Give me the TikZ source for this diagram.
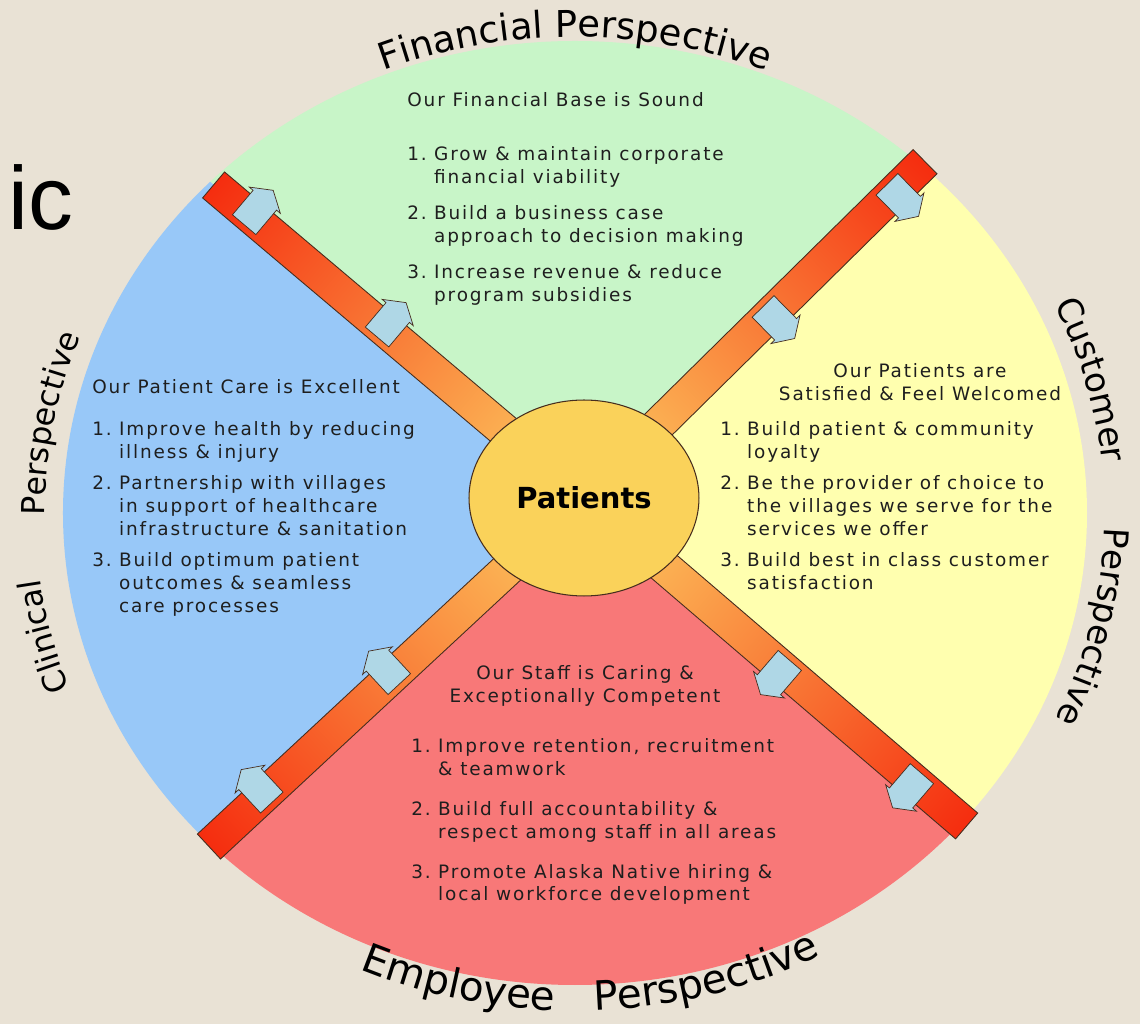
\documentclass[tikz,border=0pt]{standalone}
\usepackage{fontspec}
\setmainfont{DejaVu Sans}
\newfontfamily\bodyfont{DejaVu Sans}[LetterSpace=10]
\newfontfamily\slidefont{Liberation Sans}
\usetikzlibrary{positioning, calc, shapes.geometric, shapes.arrows, decorations.text}

\definecolor{slidebg}{RGB}{233,226,213}
\definecolor{finfill}{RGB}{200,245,200}
\definecolor{clinfill}{RGB}{152,200,248}
\definecolor{custfill}{RGB}{255,255,175}
\definecolor{empfill}{RGB}{248,120,120}
\definecolor{hubfill}{RGB}{250,210,90}
\definecolor{bandin}{RGB}{253,210,100}
\definecolor{bandmid}{RGB}{248,150,60}
\definecolor{bandout}{RGB}{245,45,15}
\definecolor{flowblue}{RGB}{175,215,230}
\definecolor{edgeline}{RGB}{70,45,30}
\definecolor{inktext}{RGB}{30,30,30}

\newcommand{\goals}[1]{\begin{tabular}[t]{@{}l@{\hspace{0.4em}}l@{}}#1\end{tabular}}
\newcommand{\heading}[1]{\begin{tabular}[t]{@{}c@{}}#1\end{tabular}}
\newcommand{\persp}[1]{\fontsize{#1}{#1}\selectfont}

\begin{document}
\begin{tikzpicture}[x=0.02cm, y=0.02cm,
  quadtext/.style={inner sep=0pt, anchor=base west, text=inktext, font=\bodyfont\fontsize{10.5}{13}\selectfont},
  flowarrow/.style={single arrow, draw=edgeline, fill=flowblue, line width=0.4pt, inner sep=0pt, text height=0.3cm, text depth=0.3cm, minimum height=0.9cm, minimum width=0.8cm, single arrow head extend=0.1cm, single arrow tip angle=115}]

\useasboundingbox (-580,-514) rectangle (560,510);
\fill[slidebg] (-580,-514) rectangle (560,510);

\coordinate (rim) at (-5,-3);
\coordinate (core) at (4,12);
\coordinate (nwend) at (-366,325);
\coordinate (neend) at (345,348);
\coordinate (swend) at (-371,-337);
\coordinate (seend) at (387,-316);

\begin{scope}
\clip (rim) ellipse [x radius=512, y radius=472];
\fill[finfill] (core) -- ($(core)!2!(nwend)$) -- ($(core)!2!(neend)$) -- cycle;
\fill[custfill] (core) -- ($(core)!2!(neend)$) -- ($(core)!2!(seend)$) -- cycle;
\fill[empfill] (core) -- ($(core)!2!(seend)$) -- ($(core)!2!(swend)$) -- cycle;
\fill[clinfill] (core) -- ($(core)!2!(swend)$) -- ($(core)!2!(nwend)$) -- cycle;
\end{scope}

\foreach \ang/\len [count=\b] in {139.8/485, 44.6/479, 222.9/512, -40.6/504}{
  \begin{scope}[transform canvas={shift={(core)}, rotate=\ang}]
    \shade[left color=bandin, middle color=bandmid, right color=bandout, draw=edgeline, line width=0.5pt] (0,-17) rectangle (\len,17);
  \end{scope}
  \foreach \t [count=\k] in {262, 436}
    \node[flowarrow, rotate=\ang-90] (flow-\b-\k) at ($(core)+(\ang:\t)+(\ang-90:7)$) {};
}

\node[ellipse, draw=edgeline, line width=0.6pt, fill=hubfill, minimum width=4.6cm, minimum height=3.92cm, inner sep=0pt, font=\bfseries\fontsize{16.5}{20}\selectfont, text=black] (hub) at (core) {Patients};

\node[quadtext] (fintitle) at (-173,403) {Our Financial Base is Sound};
\node[quadtext, below=1.08cm of fintitle.base west, anchor=base west] (fingoals) {\goals{1. & Grow \& maintain corporate\\ & financial viability\\[7.4pt]
2. & Build a business case\\ & approach to decision making\\[7.4pt]
3. & Increase revenue \& reduce\\ & program subsidies}};

\node[quadtext] (clintitle) at (-488,116) {Our Patient Care is Excellent};
\node[quadtext, below=0.84cm of clintitle.base west, anchor=base west] (clingoals) {\goals{1. & Improve health by reducing\\ & illness \& injury\\[4.5pt]
2. & Partnership with villages\\ & in support of healthcare\\ & infrastructure \& sanitation\\[5pt]
3. & Build optimum patient\\ & outcomes \& seamless\\ & care processes}};

\node[quadtext, anchor=base] (custtitle) at (340,132) {\heading{Our Patients are\\Satisfied \& Feel Welcomed}};
\node[quadtext] (custgoals) at (140,74) {\goals{1. & Build patient \& community\\ & loyalty\\[4.5pt]
2. & Be the provider of choice to\\ & the villages we serve for the\\ & services we offer\\[5pt]
3. & Build best in class customer\\ & satisfaction}};

\node[quadtext, anchor=base] (emptitle) at (5,-170) {\heading{Our Staff is Caring \&\\Exceptionally Competent}};
\node[quadtext] (empgoals) at (-169,-243) {\goals{1. & Improve retention, recruitment\\ & \& teamwork\\[9.6pt]
2. & Build full accountability \&\\ & respect among staff in all areas\\[9.6pt]
3. & Promote Alaska Native hiring \&\\ & local workforce development}};

\path[decorate, decoration={text along path, text align=center, text={|\persp{21}|Financial Perspective}}] (rim) ++(140:517 and 476) arc[start angle=140, end angle=40, x radius=517, y radius=476];
\path[decorate, decoration={text along path, text align=center, text={|\persp{19.5}|Customer}}] (rim) ++(37.4:530 and 490) arc[start angle=37.4, end angle=-6.6, x radius=530, y radius=490];
\path[decorate, decoration={text along path, text align=center, text={|\persp{19.5}|Perspective}}] (rim) ++(11:530 and 490) arc[start angle=11, end angle=-37.4, x radius=530, y radius=490];
\path[decorate, decoration={text along path, text align=center, text={|\persp{18}|Clinical}}] (rim) ++(216:540 and 495) arc[start angle=216, end angle=172, x radius=540, y radius=495];
\path[decorate, decoration={text along path, text align=center, text={|\persp{18}|Perspective}}] (rim) ++(193.7:530 and 490) arc[start angle=193.7, end angle=145.7, x radius=530, y radius=490];
\path[decorate, decoration={text along path, text align=center, text={|\persp{23}|Employee}}] (rim) ++(235:536 and 498) arc[start angle=235, end angle=279, x radius=536, y radius=498];
\path[decorate, decoration={text along path, text align=center, text={|\persp{23}|Perspective}}] (rim) ++(262.8:536 and 498) arc[start angle=262.8, end angle=306.8, x radius=536, y radius=498];

\node[font=\slidefont\fontsize{51}{51}\selectfont, anchor=base west, inner sep=0pt] (slidetitle) at (-572,280) {ic};
\end{tikzpicture}
\end{document}
